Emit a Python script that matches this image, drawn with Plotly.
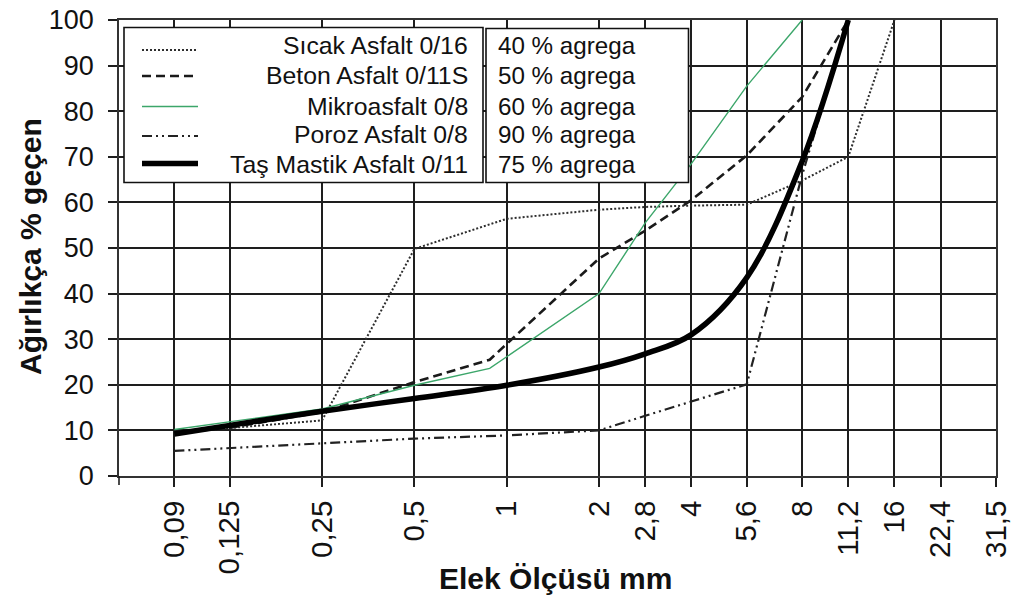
import numpy as np
import plotly.graph_objects as go

# Sieve series shown on the x axis
SIEVES_MM = [0.09, 0.125, 0.25, 0.5, 1, 2, 2.8, 4, 5.6, 8, 11.2, 16, 22.4, 31.5]
SIEVE_LABELS = ["0,09", "0,125", "0,25", "0,5", "1", "2", "2,8", "4",
                "5,6", "8", "11,2", "16", "22,4", "31,5"]

# Grading curves: sieve size (mm) and percent passing by weight
sicak_mm = [0.09, 0.25, 0.5, 1, 2, 2.8, 4, 5.6, 8, 11.2, 16]
sicak_pct = [9.5, 12.2, 49.8, 56.4, 58.4, 59.0, 59.3, 59.5, 64.8, 70.0, 100]

beton_mm = [0.09, 0.125, 0.25, 0.5, 0.88, 2, 2.8, 4, 5.6, 8, 11.2]
beton_pct = [9.5, 10.6, 14.0, 20.6, 25.5, 47.7, 53.8, 60.5, 70.3, 83.1, 100]

mikro_mm = [0.09, 0.25, 0.5, 0.88, 2, 2.8, 4, 5.6, 8]
mikro_pct = [10.2, 14.7, 19.9, 23.6, 40.0, 55.5, 68.5, 85.5, 100]

poroz_mm = [0.09, 0.25, 0.5, 1, 2, 2.8, 4, 5.6, 8, 11.2]
poroz_pct = [5.5, 7.1, 8.2, 8.9, 10.0, 13.2, 16.4, 20.1, 66.0, 100]

tma_mm = [0.09, 0.125, 0.25, 0.5, 1, 2, 2.8, 4, 5.6, 8, 11.2]
tma_pct = [9.2, 11.1, 14.2, 17.0, 19.9, 23.9, 26.8, 31.0, 43.5, 69.0, 100]

SERIES_NAMES = ["Sıcak Asfalt 0/16", "Beton Asfalt 0/11S", "Mikroasfalt 0/8",
                "Poroz Asfalt 0/8", "Taş Mastik Asfalt 0/11"]
AGREGA_PCT = [40, 50, 60, 90, 75]

# Sieve axis: position of each standard sieve along x (octave-like units)
SIEVE_AXIS = [-3.6, -3.0, -2.0, -1.0, 0.0, 1.0, 1.5, 2.0, 2.6, 3.2, 3.7, 4.2, 4.7, 5.3]
X_RANGE = [-4.2, 5.3]


def sieve_axis(d):
    return np.interp(np.log2(d), np.log2(SIEVES_MM), SIEVE_AXIS)


W, H = 1013, 598
M_L, M_R, M_T, M_B = 119, 17, 20, 122
PW, PH = W - M_L - M_R, H - M_T - M_B


def px(x):
    return (x - M_L) / PW


def py(y):
    return (H - M_B - y) / PH


FONT = "Liberation Sans, Arial, sans-serif"
INK = "#1e1e1e"

styles = [
    dict(color="#2e2e2e", width=2.0, dash="2px,2px"),
    dict(color="#1a1a1a", width=2.6, dash="9px,5px"),
    dict(color="#3ca66a", width=1.4, dash="solid"),
    dict(color="#222222", width=2.2, dash="10px,4px,2px,4px,2px,4px"),
    dict(color="#000000", width=5.5, dash="solid"),
]
series = [(sicak_mm, sicak_pct), (beton_mm, beton_pct), (mikro_mm, mikro_pct),
          (poroz_mm, poroz_pct), (tma_mm, tma_pct)]

fig = go.Figure()
for i, ((mm, pct), st, name) in enumerate(zip(series, styles, SERIES_NAMES)):
    shape = "spline" if i == 4 else "linear"
    fig.add_trace(go.Scatter(
        x=sieve_axis(mm), y=pct, mode="lines", name=name,
        line=dict(color=st["color"], width=st["width"], dash=st["dash"],
                  shape=shape, smoothing=1.0),
        showlegend=False, hoverinfo="skip"))

axis_common = dict(
    showgrid=True, gridcolor=INK, gridwidth=1.6,
    showline=True, linecolor="#333333", linewidth=1.6, mirror=True,
    ticks="outside", ticklen=9, tickwidth=1.6, tickcolor=INK,
    zeroline=False, automargin=False,
    tickfont=dict(family=FONT, color="#111111"),
)

fig.update_xaxes(range=X_RANGE, tickmode="array",
                 tickvals=sieve_axis(SIEVES_MM), ticktext=SIEVE_LABELS,
                 tickangle=-90, **axis_common)
fig.update_xaxes(tickfont_size=29.5, ticklabelstandoff=2)
fig.update_yaxes(range=[0, 100], dtick=10, tick0=0, **axis_common)
fig.update_yaxes(tickfont_size=27, ticklabelstandoff=9)

shapes = []
annotations = []

# left-end tick below the category axis
shapes.append(dict(type="line", xref="paper", yref="paper", x0=0, x1=0,
                   y0=0, y1=py(485), line=dict(color=INK, width=1.6)))

# legend panel: line samples with right-aligned names, and aggregate share
shapes.append(dict(type="rect", xref="paper", yref="paper",
                   x0=px(124), x1=px(483), y0=py(182.5), y1=py(27.5),
                   fillcolor="white", line=dict(color="#111111", width=1.6),
                   layer="above"))
shapes.append(dict(type="rect", xref="paper", yref="paper",
                   x0=px(486), x1=px(688.5), y0=py(182.5), y1=py(28.5),
                   fillcolor="white", line=dict(color="#111111", width=1.6),
                   layer="above"))

row_y = [46, 75, 106, 135, 164]
sample_y = [50, 76, 106.5, 136, 163.5]
for name, share, st, ty, sy in zip(SERIES_NAMES, AGREGA_PCT, styles, row_y, sample_y):
    shapes.append(dict(type="line", xref="paper", yref="paper",
                       x0=px(142), x1=px(198), y0=py(sy), y1=py(sy),
                       line=dict(color=st["color"], width=st["width"], dash=st["dash"]),
                       layer="above"))
    annotations.append(dict(xref="paper", yref="paper", x=px(470), y=py(ty),
                            xanchor="right", yanchor="middle", showarrow=False,
                            text=name, font=dict(family=FONT, size=24.8, color="#111111")))
    annotations.append(dict(xref="paper", yref="paper", x=px(496), y=py(ty),
                            xanchor="left", yanchor="middle", showarrow=False,
                            text=f"{share} % agrega",
                            font=dict(family=FONT, size=24.2, color="#111111")))

# axis titles
annotations.append(dict(xref="paper", yref="paper", x=px(555), y=py(578),
                        xanchor="center", yanchor="middle", showarrow=False,
                        text="<b>Elek Ölçüsü mm</b>",
                        font=dict(family=FONT, size=30, color="#111111")))
annotations.append(dict(xref="paper", yref="paper", x=px(30), y=py(247),
                        xanchor="center", yanchor="middle", showarrow=False,
                        textangle=-90, text="<b>Ağırlıkça % geçen</b>",
                        font=dict(family=FONT, size=30, color="#111111")))

fig.update_layout(
    width=W, height=H,
    margin=dict(l=M_L, r=M_R, t=M_T, b=M_B),
    paper_bgcolor="white", plot_bgcolor="white",
    shapes=shapes, annotations=annotations,
    showlegend=False,
)

fig.write_html("out.html")
